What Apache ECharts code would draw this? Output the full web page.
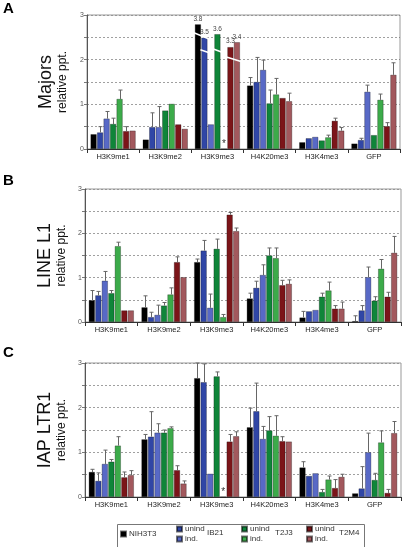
<!DOCTYPE html>
<html>
<head>
<meta charset="utf-8">
<script src="https://cdn.jsdelivr.net/npm/echarts@6/dist/echarts.min.js"></script>
<style>
html,body{margin:0;padding:0;background:#fff;}
#c{width:403px;height:547px;}
</style>
</head>
<body>
<div id="c"></div>
<script>
// ---------- data ----------
const categories = ['H3K9me1', 'H3K9me2', 'H3K9me3', 'H4K20me3', 'H3K4me3', 'GFP'];
const seriesNames = ['NIH3T3', 'IB21 unind', 'IB21 ind.', 'T2J3 unind', 'T2J3 ind.', 'T2M4 unind', 'T2M4 ind.'];
const yTicks = [0, 1, 2, 3];
const panelLetters = ['A', 'B', 'C'];
const panelTitles = ['Majors', 'LINE L1', 'IAP LTR1'];

// rows = series (seriesNames order), columns = categories
const majorsMean = [
  [0.33, 0.21, 2.79, 1.42, 0.15, 0.12],
  [0.37, 0.49, 2.49, 1.50, 0.24, 0.20],
  [0.68, 0.49, 0.55, 1.77, 0.27, 1.28],
  [0.56, 0.86, 2.57, 1.02, 0.19, 0.31],
  [1.12, 1.01, 0.00, 1.22, 0.26, 1.10],
  [0.40, 0.55, 2.28, 1.14, 0.63, 0.51],
  [0.41, 0.45, 2.39, 1.07, 0.41, 1.66]
];
const majorsErrTop = [
  [null, null, null, 1.60, null, null],
  [0.50, 0.81, null, 2.05, null, 0.24],
  [0.84, 0.95, null, 1.99, null, 1.43],
  [0.69, null, null, 1.32, null, null],
  [1.32, null, null, 1.58, 0.31, 1.23],
  [0.50, null, null, null, 0.69, 0.59],
  [null, null, null, 1.25, 0.48, 1.93]
];
// true values printed above the truncated H3K9me3 bars
const majorsBrokenLabels = ['3.8', '3.5', null, '3.6', null, '3.3', '3.4'];

const line1Mean = [
  [0.49, 0.33, 1.35, 0.53, 0.10, 0.02],
  [0.60, 0.11, 1.61, 0.77, 0.24, 0.26],
  [0.93, 0.16, 0.32, 1.06, 0.27, 1.01],
  [0.65, 0.37, 1.65, 1.50, 0.57, 0.48],
  [1.71, 0.62, 0.11, 1.44, 0.71, 1.20],
  [0.26, 1.35, 2.42, 0.83, 0.30, 0.57],
  [0.26, 1.01, 2.05, 0.86, 0.30, 1.56]
];
const line1ErrTop = [
  [0.71, 0.59, 1.42, 0.65, 0.24, 0.14],
  [0.69, 0.22, 1.84, 0.92, null, 0.37],
  [1.14, 0.38, 0.63, 1.29, null, 1.24],
  [0.71, 0.44, 1.87, 1.67, 0.65, 0.57],
  [1.80, 0.77, 0.17, 1.67, 0.90, 1.41],
  [null, 1.47, 2.47, 0.94, 0.37, 0.67],
  [null, null, 2.12, 0.95, 0.45, 1.93]
];

const iapMean = [
  [0.56, 1.29, 2.66, 1.56, 0.66, 0.08],
  [0.36, 1.35, 2.57, 1.92, 0.47, 0.19],
  [0.74, 1.44, 0.52, 1.30, 0.53, 1.00],
  [0.79, 1.44, 2.70, 1.49, 0.11, 0.38],
  [1.15, 1.54, 0.00, 1.37, 0.39, 1.22],
  [0.44, 0.60, 1.24, 1.25, 0.20, 0.09],
  [0.49, 0.30, 1.36, 1.24, 0.45, 1.43]
];
const iapErrTop = [
  [0.62, 1.40, 3.00, 1.99, 0.79, null],
  [0.54, 1.91, 2.98, 2.55, null, 0.68],
  [1.05, 1.64, null, 1.58, null, 1.43],
  [0.84, 1.50, 2.80, 1.80, 0.17, 0.53],
  [1.35, 1.57, null, 1.82, 0.47, 1.48],
  [0.56, 0.70, 1.40, 1.35, 0.39, 0.17],
  [0.59, 0.36, 1.46, null, 0.51, 1.69]
];
// axis-break slashes on panel A: [category, first series, last series, y at left, y at right]
const majorsBreaks = [
  [2, 0, 1, 2.60, 2.47],
  [2, 1, 1, 2.22, 2.16],
  [2, 3, 3, 2.24, 2.17],
  [2, 5, 6, 2.06, 1.96]
];
// no-data markers (category, series) shown as "*"
const majorsStars = [[2, 4]];
const iapStars = [[2, 4]];

// ---------- styles ----------
const colors = ['#000000', '#3046a6', '#5869c6', '#0f8539', '#3cab4a', '#7b1519', '#a2585d'];
const FONT = 'Liberation Sans, Arial, sans-serif';
const BW = 6, GAP = 0.5;
const grids = [
  {left: 87, right: 3, top: 15, height: 134},
  {left: 85, right: 2, top: 189, height: 133},
  {left: 85, right: 2, top: 363, height: 134}
];
const titleGaps = [18, 16, 16];
const panelMeans = [majorsMean, line1Mean, iapMean];
const panelErrs = [majorsErrTop, line1ErrTop, iapErrTop];
const panelStars = [majorsStars, [], iapStars];

const option = {
  animation: false,
  backgroundColor: '#fff',
  textStyle: {fontFamily: FONT},
  grid: grids.map(g => Object.assign({show: true, borderColor: '#999', borderWidth: 1, backgroundColor: 'transparent'}, g)),
  xAxis: grids.map((g, p) => ({
    type: 'category', gridIndex: p, data: categories,
    axisLine: {lineStyle: {color: '#333', width: 1}},
    axisTick: {show: true, length: 4, lineStyle: {color: '#333'}},
    axisLabel: {fontSize: 7.5, color: '#222', margin: 4, fontFamily: FONT}
  })),
  yAxis: grids.map((g, p) => ({
    type: 'value', gridIndex: p, min: 0, max: 3, interval: 0.5,
    name: '{a|' + panelTitles[p] + '}\n{b|relative ppt.}',
    nameLocation: 'middle', nameGap: titleGaps[p],
    nameTextStyle: {
      fontFamily: FONT, color: '#111', align: 'center',
      rich: {
        a: {fontSize: 18, lineHeight: 19, fontFamily: FONT, color: '#111'},
        b: {fontSize: 12, lineHeight: 13, fontFamily: FONT, color: '#111'}
      }
    },
    axisLine: {show: true, lineStyle: {color: '#555', width: 1}},
    axisTick: {show: true, length: 3, lineStyle: {color: '#777'}},
    axisLabel: {
      fontSize: 7, color: '#555', margin: 3, fontFamily: FONT,
      formatter: v => (yTicks.indexOf(v) >= 0 ? String(v) : '')
    },
    splitLine: {show: true, lineStyle: {color: '#888', type: [2, 2], width: 0.8}}
  })),
  legend: [],
  series: [],
  graphic: []
};

// bar series
for (let p = 0; p < 3; p++) {
  for (let s = 0; s < seriesNames.length; s++) {
    const data = panelMeans[p][s].map((v, c) => {
      const item = {value: v};
      if (p === 0 && c === 2 && majorsBrokenLabels[s]) {
        item.label = {show: true, position: 'top', distance: 2, formatter: majorsBrokenLabels[s],
          fontSize: 6.5, color: '#444', fontFamily: FONT};
      }
      if (panelStars[p].some(st => st[0] === c && st[1] === s)) {
        item.label = {show: true, position: 'top', distance: 0, formatter: '*',
          fontSize: 10, color: '#333', fontFamily: FONT};
      }
      return item;
    });
    option.series.push({
      type: 'bar', name: seriesNames[s], xAxisIndex: p, yAxisIndex: p,
      barWidth: BW, barGap: (GAP / BW * 100) + '%',
      itemStyle: {color: colors[s], borderColor: 'rgba(0,0,0,0.55)', borderWidth: 0.5},
      data: data, z: 2
    });
  }
  // error bars
  const errData = [];
  for (let s = 0; s < seriesNames.length; s++) {
    for (let c = 0; c < categories.length; c++) {
      const e = panelErrs[p][s][c];
      if (e !== null && e !== undefined) errData.push([c, s, panelMeans[p][s][c], e]);
    }
  }
  option.series.push({
    type: 'custom', xAxisIndex: p, yAxisIndex: p, z: 3, silent: true,
    encode: {x: 0, y: 3},
    data: errData,
    renderItem: (params, api) => {
      const c = api.value(0), s = api.value(1), v = api.value(2), e = api.value(3);
      const b = api.coord([c, v]);
      const t = api.coord([c, e]);
      const x = Math.round(b[0] + (s - 3) * (BW + GAP)) + 0.5;
      return {
        type: 'group',
        children: [
          {type: 'line', shape: {x1: x, y1: b[1], x2: x, y2: t[1]}, style: {stroke: '#666', lineWidth: 1}},
          {type: 'line', shape: {x1: x - 2, y1: t[1], x2: x + 2, y2: t[1]}, style: {stroke: '#666', lineWidth: 1}}
        ]
      };
    }
  });
}

// axis-break slashes on panel A
option.series.push({
  type: 'custom', xAxisIndex: 0, yAxisIndex: 0, z: 4, silent: true,
  encode: {x: 0, y: 3},
  data: majorsBreaks,
  renderItem: (params, api) => {
    const c = api.value(0), s1 = api.value(1), s2 = api.value(2), yl = api.value(3), yr = api.value(4);
    const pl = api.coord([c, yl]);
    const pr = api.coord([c, yr]);
    const x1 = pl[0] + (s1 - 3) * (BW + GAP) - BW / 2 - 1;
    const x2 = pr[0] + (s2 - 3) * (BW + GAP) + BW / 2 + 1;
    return {type: 'line', shape: {x1: x1, y1: pl[1], x2: x2, y2: pr[1]},
      style: {stroke: '#fff', lineWidth: 1.6}};
  }
});

// legend
const legendFmt = n => (n.indexOf(' ') > 0 ? n.split(' ')[1] : n);
const legendCommon = {
  orient: 'vertical', itemWidth: 5, itemHeight: 5, itemGap: 0, padding: 0,
  icon: 'rect', selectedMode: false, formatter: legendFmt,
  textStyle: {fontSize: 8, color: '#333', fontFamily: FONT, padding: [0, 0, 0, -2], lineHeight: 10}
};
option.legend.push(Object.assign({}, legendCommon, {data: [seriesNames[0]], left: 120, top: 529}));
option.legend.push(Object.assign({}, legendCommon, {data: [seriesNames[1], seriesNames[2]], left: 176, top: 524}));
option.legend.push(Object.assign({}, legendCommon, {data: [seriesNames[3], seriesNames[4]], left: 241, top: 524}));
option.legend.push(Object.assign({}, legendCommon, {data: [seriesNames[5], seriesNames[6]], left: 306, top: 524}));

option.graphic.push({type: 'rect', left: 115, top: 522, shape: {width: 247, height: 23},
  style: {fill: 'none', stroke: '#777', lineWidth: 1}, z: -1});
const groupNames = ['IB21', 'T2J3', 'T2M4'];
const groupLeft = [207, 275, 339];
groupNames.forEach((n, i) => option.graphic.push({type: 'text', left: groupLeft[i], top: 529,
  style: {text: n, fontSize: 8, fill: '#333', fontFamily: FONT}}));

// panel letters
const letterTops = [1, 173, 345];
panelLetters.forEach((l, i) => option.graphic.push({type: 'text', left: 3, top: letterTops[i],
  style: {text: l, fontSize: 15, fontWeight: 'bold', fill: '#000', fontFamily: FONT}}));

const chart = echarts.init(document.getElementById('c'), null, {renderer: 'canvas'});
chart.setOption(option);
</script>
</body>
</html>
